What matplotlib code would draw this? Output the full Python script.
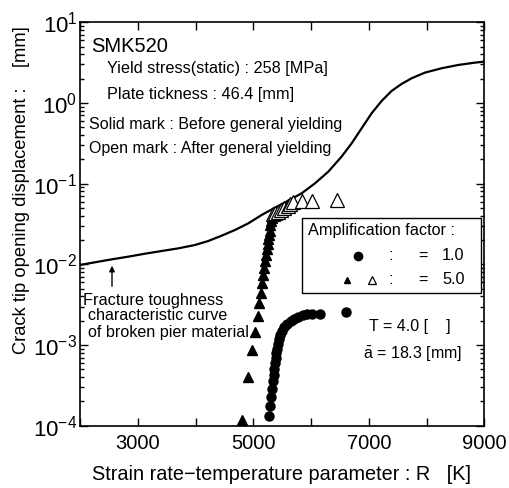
import matplotlib
matplotlib.use("Agg")
import matplotlib.pyplot as plt
from matplotlib.ticker import LogLocator, FixedLocator, NullFormatter, FixedFormatter
from matplotlib.patches import Rectangle

plt.rcParams['font.family'] = ['Liberation Sans', 'DejaVu Sans']
plt.rcParams['mathtext.fontset'] = 'custom'
plt.rcParams['mathtext.rm'] = 'Liberation Sans'
plt.rcParams['mathtext.it'] = 'Liberation Sans:italic'
plt.rcParams['mathtext.bf'] = 'Liberation Sans:bold'

# characteristic curve
curve_R = [2000, 2260, 2548, 2837, 3125, 3414, 3702, 3991, 4221, 4452, 4683, 4914,
           5145, 5375, 5606, 5837, 6068, 6299, 6529, 6703, 6876, 7049, 7222, 7395,
           7568, 7741, 7972, 8260, 8549, 8837, 9000]
curve_d = [0.00982, 0.0106, 0.01153, 0.01245, 0.01355, 0.01463, 0.01578, 0.01737,
           0.01947, 0.02265, 0.02665, 0.03223, 0.0409, 0.0504, 0.06152, 0.07586,
           0.1009, 0.1409, 0.2163, 0.3162, 0.4853, 0.7447, 1.059, 1.409, 1.722,
           2.024, 2.378, 2.692, 2.96, 3.162, 3.254]

# amplification factor 1.0 (circles)
circ_R = [5272, 5289, 5307, 5324, 5341, 5353, 5364, 5376, 5387, 5399, 5411, 5422,
          5439, 5463, 5497, 5537, 5589, 5648, 5710, 5780, 5854, 5935, 6011, 6155, 6600]
circ_d = [1.33e-4, 1.77e-4, 2.30e-4, 2.88e-4, 3.56e-4, 4.30e-4, 5.09e-4, 5.94e-4,
          6.85e-4, 7.91e-4, 9.02e-4, 1.03e-3, 1.18e-3, 1.33e-3, 1.50e-3, 1.66e-3,
          1.82e-3, 1.99e-3, 2.12e-3, 2.25e-3, 2.36e-3, 2.43e-3, 2.45e-3, 2.45e-3, 2.55e-3]

# amplification factor 5.0, solid (before general yielding)
tri_R = [4810, 4914, 4983, 5030, 5076, 5099, 5128, 5150, 5173, 5191, 5208, 5225,
         5237, 5249, 5260, 5272, 5284, 5289, 5304, 5318, 5335]
tri_d = [1.17e-4, 4.06e-4, 8.69e-4, 1.47e-3, 2.30e-3, 3.30e-3, 4.46e-3, 5.83e-3,
         7.40e-3, 9.10e-3, 1.10e-2, 1.31e-2, 1.54e-2, 1.77e-2, 2.05e-2, 2.33e-2,
         2.62e-2, 3.08e-2, 3.40e-2, 3.72e-2, 4.17e-2]

# amplification factor 5.0, open (after general yielding)
otri_R = [5335, 5380, 5422, 5478, 5536, 5594, 5640, 5693, 5837, 6011, 6455]
otri_d = [0.0420, 0.0432, 0.0446, 0.0476, 0.0504, 0.0530, 0.0560, 0.0598, 0.0615,
          0.0615, 0.0628]

xticks = [2000, 3000, 4000, 5000, 6000, 7000, 8000, 9000]
xticklabels = ['', '3000', '', '5000', '', '7000', '', '9000']

W, H = 509, 488
fig = plt.figure(figsize=(W / 100, H / 100), dpi=100)
ax = fig.add_axes([80 / W, 1 - 425.7 / H, (484.3 - 80) / W, (425.7 - 22.3) / H])

ax.plot(curve_R, curve_d, color='black', lw=1.6, zorder=2)
ax.plot(circ_R, circ_d, 'o', color='black', ms=6.5, zorder=3)
ax.plot(tri_R, tri_d, '^', color='black', ms=6.5, zorder=3)
ax.plot(otri_R, otri_d, '^', mfc='white', mec='black', mew=0.9, ms=10.5, zorder=4)

ax.set_yscale('log')
ax.set_xlim(2000, 9000)
ax.set_ylim(1e-4, 10)
ax.xaxis.set_major_locator(FixedLocator(xticks))
ax.xaxis.set_major_formatter(FixedFormatter(xticklabels))
ax.yaxis.set_major_locator(LogLocator(base=10, numticks=10))
ax.yaxis.set_minor_locator(LogLocator(base=10, subs=range(2, 10), numticks=20))
ax.yaxis.set_minor_formatter(NullFormatter())
ax.tick_params(which='both', direction='in', top=True, right=True, width=1)
ax.tick_params(which='major', length=6)
ax.tick_params(which='minor', length=3)
ax.tick_params(axis='x', pad=6, labelsize=14.5)
ax.tick_params(axis='y', pad=2, labelsize=16)
for s in ax.spines.values():
    s.set_linewidth(1.2)

def T(x, y, s, size=11.7, ha='left'):
    fig.text(x / W, 1 - y / H, s, fontsize=size, ha=ha, va='center', zorder=8)

T(91, 47, 'SMK520', 14.5)
T(107, 69, 'Yield stress(static) : 258 [MPa]', 11.7)
T(107, 94, 'Plate tickness : 46.4 [mm]', 11.7)
T(89, 124, 'Solid mark : Before general yielding', 11.5)
T(89, 148, 'Open mark : After general yielding', 11.5)
T(83, 300, 'Fracture toughness', 11.7)
T(88, 316, 'characteristic curve', 11.6)
T(88, 332, 'of broken pier material', 11.6)
T(369, 326, 'T = 4.0 [    ]', 11.5)
T(363, 354, r'$\bar{\rm a}$ = 18.3 [mm]', 11.5)

ax.annotate('', xy=(112 / W, 1 - 263 / H), xytext=(112 / W, 1 - 289 / H),
            xycoords='figure fraction', textcoords='figure fraction',
            arrowprops=dict(arrowstyle='-|>', color='black', lw=1, mutation_scale=8))

# legend box
fig.patches.append(Rectangle((302 / W, 1 - 293 / H), (481 - 302) / W, (293 - 218) / H,
                             transform=fig.transFigure, fill=True, facecolor='white',
                             edgecolor='black', lw=1, zorder=5))
T(308, 231, 'Amplification factor :', 11.7)
fig.lines.append(plt.Line2D([358 / W], [1 - 256 / H], marker='o', color='black', ms=6,
                            transform=fig.transFigure, zorder=6))
fig.lines.append(plt.Line2D([347 / W], [1 - 280 / H], marker='^', color='black', ms=5,
                            transform=fig.transFigure, zorder=6))
fig.lines.append(plt.Line2D([372 / W], [1 - 280 / H], marker='^', mfc='white', mec='black',
                            mew=0.9, ms=6, transform=fig.transFigure, zorder=6))
for yy, val in [(256, '1.0'), (280, '5.0')]:
    T(389, yy, ':', 11.7)
    T(418, yy, '=', 11.7)
    T(442, yy, val, 11.7)

fig.text(22 / W, 1 - 190 / H, 'Crack tip opening displacement :    [mm]', rotation=90,
         fontsize=13.2, ha='center', va='center')
fig.text(281 / W, 1 - 475 / H, 'Strain rate\u2212temperature parameter : R   [K]',
         fontsize=14.3, ha='center', va='center')

fig.savefig('out.png', dpi=100)
